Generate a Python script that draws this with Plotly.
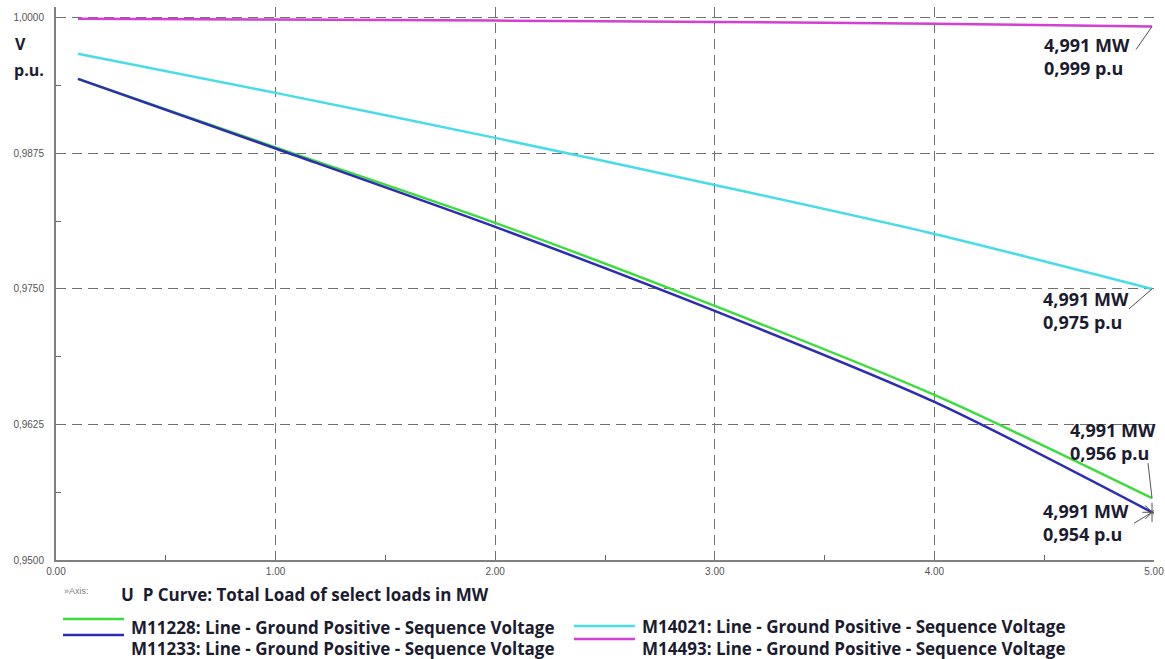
import plotly.graph_objects as go

# Load (MW) at each step of the U-P sweep
load_mw = [0.1, 1.0, 2.0, 3.0, 4.0, 4.991]

# Positive-sequence voltage (p.u.) per monitored node
v_m11228 = [0.99437, 0.98806, 0.98109, 0.97343, 0.96522, 0.9557]
v_m11233 = [0.99437, 0.98795, 0.98072, 0.97297, 0.96458, 0.9544]
v_m14021 = [0.99668, 0.99308, 0.98893, 0.98459, 0.98007, 0.9750]
v_m14493 = [0.99992, 0.99985, 0.99975, 0.99962, 0.99945, 0.9992]

series_names = [
    "M11228: Line - Ground Positive - Sequence Voltage",
    "M11233: Line - Ground Positive - Sequence Voltage",
    "M14021: Line - Ground Positive - Sequence Voltage",
    "M14493: Line - Ground Positive - Sequence Voltage",
]
series_colors = ["#3ddc3d", "#2d2db4", "#48dde6", "#d23fd2"]

# Axis ticks
x_ticks = [0, 1, 2, 3, 4, 5]
x_tick_text = ["0.00", "1.00", "2.00", "3.00", "4.00", "5.00"]
x_minor = [0.5, 1.5, 2.5, 3.5, 4.5]
y_ticks = [0.95, 0.9625, 0.975, 0.9875, 1.0]
y_tick_text = ["0,9500", "0,9625", "0,9750", "0,9875", "1,0000"]
y_minor = [0.95625, 0.96875, 0.98125, 0.99375]

W, H = 1165, 659
ML, MR, MT, MB = 56, 11, 7, 99
PW, PH = W - ML - MR, H - MT - MB

TXT = "#1c1c30"
FONT = "Open Sans"


def px(x):
    return (x - ML) / PW


def py(y):
    return 1 - (y - MT) / PH


def fmt(v, nd):
    return f"{v:.{nd}f}".replace(".", ",")


def bold(size):
    return dict(family=FONT, size=size, color=TXT, weight="bold")


fig = go.Figure()
all_series = [v_m11228, v_m11233, v_m14021, v_m14493]
for name, col, vals in zip(series_names, series_colors, all_series):
    fig.add_trace(go.Scatter(
        x=load_mw, y=vals, name=name, mode="lines",
        line=dict(color=col, width=2.5, shape="spline", smoothing=0.8),
        showlegend=False, hoverinfo="x+y",
    ))

# crosshair cursor at the end of the M11233 curve
fig.add_trace(go.Scatter(
    x=[load_mw[-1]], y=[v_m11233[-1]], mode="markers",
    marker=dict(symbol="asterisk-open", size=16, color="#555",
                line=dict(color="#555", width=1)),
    showlegend=False, hoverinfo="skip",
))

annotations = []
shapes = []

# end-point readouts: (series, text offset x, text offset y, pointer dx, pointer dy)
readouts = [
    (v_m14493, -110, -30, -16, -23),
    (v_m14021, -111, -22, -23, -20),
    (v_m11228, -84, 57, -4, 35),
    (v_m11233, -111, -10, -18, -11),
]
for vals, tx, ty, dx, dy in readouts:
    xe, ye = load_mw[-1], vals[-1]
    annotations.append(dict(
        x=xe, y=ye, xref="x", yref="y", xanchor="left", yanchor="middle",
        xshift=tx, yshift=ty, showarrow=False, align="left",
        text=f"{fmt(xe, 3)} MW<br>{fmt(ye, 3)} p.u",
        font=bold(18),
    ))
    shapes.append(dict(
        type="line", xref="x", yref="y", xsizemode="pixel", ysizemode="pixel",
        xanchor=xe, yanchor=ye, x0=0, y0=0, x1=dx, y1=dy,
        line=dict(color="#555", width=1),
    ))

# y-axis unit label, x-axis caption
annotations += [
    dict(x=px(13), y=py(44), xref="paper", yref="paper", xanchor="left",
         yanchor="middle", showarrow=False, text="V", font=bold(16)),
    dict(x=px(12), y=py(70), xref="paper", yref="paper", xanchor="left",
         yanchor="middle", showarrow=False, text="p.u.", font=bold(16)),
    dict(x=px(62), y=py(591), xref="paper", yref="paper", xanchor="left",
         yanchor="middle", showarrow=False, text="»Axis:",
         font=dict(family="Liberation Sans", size=9, color="#808080")),
    dict(x=px(119), y=py(594), xref="paper", yref="paper", xanchor="left",
         yanchor="middle", showarrow=False,
         text="U  P Curve: Total Load of select loads in MW", font=bold(17)),
]

# legend block: sample line + label
legend_rows = [
    (0, 63, 124, 619, 129, 627),
    (1, 63, 124, 635, 129, 648),
    (2, 574, 635, 626, 640, 626),
    (3, 574, 635, 639, 640, 648),
]
for i, x0, x1, ly, tx, ty in legend_rows:
    shapes.append(dict(
        type="line", xref="paper", yref="paper",
        x0=px(x0), x1=px(x1), y0=py(ly), y1=py(ly),
        line=dict(color=series_colors[i], width=2.5),
    ))
    annotations.append(dict(
        x=px(tx), y=py(ty), xref="paper", yref="paper", xanchor="left",
        yanchor="middle", showarrow=False, text=series_names[i],
        font=bold(17),
    ))

grid = dict(showgrid=True, gridcolor="#707070", gridwidth=1.4, griddash="10px,6px")

fig.update_layout(
    width=W, height=H,
    margin=dict(l=ML, r=MR, t=MT, b=MB, pad=0),
    paper_bgcolor="white", plot_bgcolor="white",
    showlegend=False,
    annotations=annotations,
    shapes=shapes,
    xaxis=dict(
        range=[0, 5.0], tickmode="array", tickvals=x_ticks, ticktext=x_tick_text,
        ticks="", ticklabelstandoff=1, automargin=False,
        tickfont=dict(family="Liberation Sans", size=10, color="#555"),
        showline=True, linecolor="#808080", linewidth=2, zeroline=False,
        minor=dict(tickmode="array", tickvals=x_minor, ticks="inside",
                   ticklen=5, tickcolor="#666", showgrid=False),
        **grid,
    ),
    yaxis=dict(
        range=[0.95, 1.001], tickmode="array", tickvals=y_ticks, ticktext=y_tick_text,
        ticks="", ticklabelstandoff=8, automargin=False,
        tickfont=dict(family="Liberation Sans", size=10, color="#555"),
        showline=True, linecolor="#808080", linewidth=2, zeroline=False,
        minor=dict(tickmode="array", tickvals=y_minor, ticks="inside",
                   ticklen=5, tickcolor="#666", showgrid=False),
        **grid,
    ),
)

fig.write_html("out.html")
